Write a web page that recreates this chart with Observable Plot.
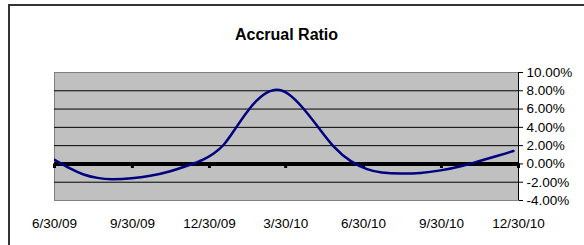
<!DOCTYPE html>
<html><head><meta charset="utf-8">
<script src="https://cdn.jsdelivr.net/npm/d3@7"></script>
<script src="https://cdn.jsdelivr.net/npm/@observablehq/plot@0.6"></script>
<style>
html,body{margin:0;padding:0;background:#fff;}
#wrap{position:relative;width:584px;height:245px;overflow:hidden;}
#chart{position:absolute;left:0;top:0;}
#border{position:absolute;left:8px;top:4px;width:620px;height:300px;border:2px solid #333;box-sizing:border-box;pointer-events:none;}
</style></head><body>
<div id="wrap"><div id="chart"></div><div id="border"></div></div>
<script>
const title = "Accrual Ratio";
const dates = ["2009-06-30","2009-07-19","2009-08-03","2009-08-20","2009-09-04","2009-09-30","2009-10-21","2009-11-12","2009-12-08","2009-12-23","2010-01-04","2010-01-16","2010-01-27","2010-02-16","2010-03-04","2010-03-19","2010-04-02","2010-04-17","2010-05-07","2010-05-26","2010-06-15","2010-07-05","2010-07-20","2010-08-13","2010-09-05","2010-09-29","2010-10-23","2010-11-15","2010-12-09","2010-12-24"];
const values = [0.44,-0.55,-1.2,-1.56,-1.72,-1.6,-1.33,-0.9,-0.07,0.45,1.1,2.0,3.5,6.25,7.7,8.3,7.8,6.45,4.1,1.72,0.19,-0.66,-0.95,-1.09,-1.02,-0.73,-0.3,0.36,0.98,1.42];
const tickDates = ["2009-06-30","2009-09-30","2009-12-30","2010-03-30","2010-06-30","2010-09-30","2010-12-30"];
const yTicks = [-4,-2,0,2,4,6,8,10];
const gridValues = [-2,2,4,6,8];

const parse = s => new Date(s + "T00:00:00Z");
const data = dates.map((d, i) => ({date: parse(d), value: values[i]}));
const ticks = tickDates.map(parse);
const fmtDate = d => `${d.getUTCMonth() + 1}/${d.getUTCDate()}/${String(d.getUTCFullYear()).slice(2)}`;

const chart = Plot.plot({
  width: 584,
  height: 245,
  marginLeft: 54,
  marginRight: 66,
  marginTop: 72,
  marginBottom: 45,
  style: {fontFamily: "Arial, 'Liberation Sans', sans-serif", fontSize: "13.5px", color: "#000", background: "transparent"},
  x: {type: "utc", domain: [ticks[0], ticks[ticks.length - 1]]},
  y: {domain: [-4, 10]},
  marks: [
    Plot.frame({fill: "#c0c0c0", stroke: "#808080"}),
    Plot.gridY(gridValues, {stroke: "#000", strokeOpacity: 1, strokeWidth: 1}),
    Plot.ruleX([ticks[ticks.length - 1]], {stroke: "#000", strokeWidth: 1}),
    Plot.ruleY([0], {stroke: "#000", strokeWidth: 4}),
    Plot.ruleX(ticks, {x: d => d, y1: 0, y2: -0.5, stroke: "#000", strokeWidth: 3}),
    Plot.line(data, {x: "date", y: "value", curve: "basis", stroke: "#000080", strokeWidth: 2.5, clip: true}),
    Plot.axisY({anchor: "right", ticks: yTicks, tickSize: 4, tickPadding: 4, tickFormat: d => d.toFixed(2) + "%", label: null, fontSize: 13.5}),
    Plot.axisX({anchor: "bottom", ticks: ticks, tickSize: 0, tickPadding: 18, tickFormat: fmtDate, label: null, fontSize: 13.5}),
    Plot.text([title], {text: d => d, frameAnchor: "top", lineAnchor: "middle", dy: -38, fontWeight: "bold", fontSize: 16})
  ]
});
document.getElementById("chart").appendChild(chart);
</script>
</body></html>
